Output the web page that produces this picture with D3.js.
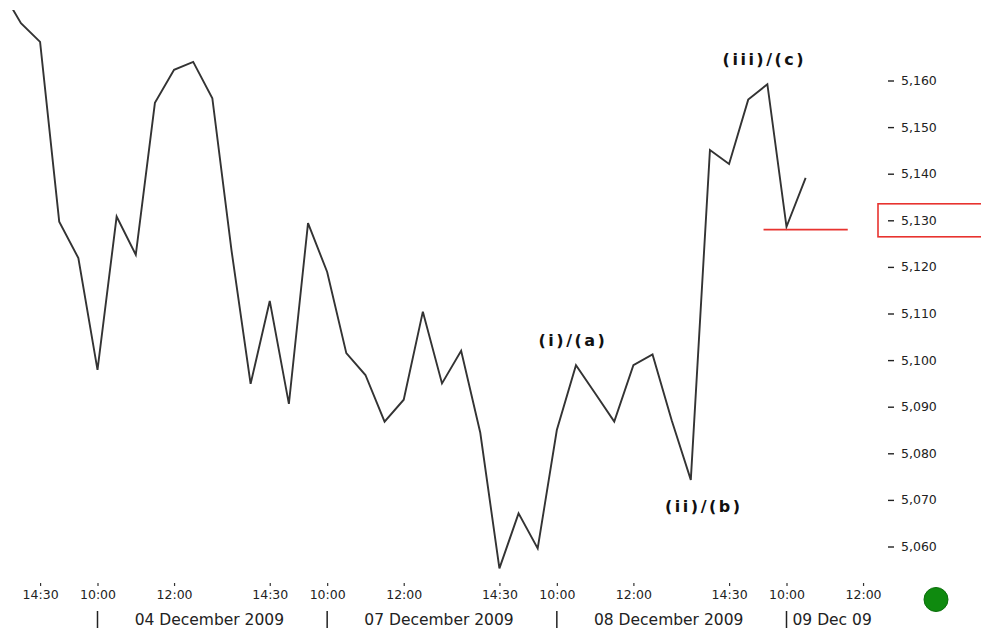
<!DOCTYPE html>
<html>
<head>
<meta charset="utf-8">
<script src="https://cdn.jsdelivr.net/npm/d3@7/dist/d3.min.js"></script>
<style>
  html, body { margin: 0; padding: 0; background: #ffffff; }
  svg { display: block; }
</style>
</head>
<body>
<svg id="chart" width="981" height="633"></svg>
<script>
// ---- data (half-hourly session bars, 10:00-15:30 per trading day) ----
const sessionDays = ["2009-12-03", "2009-12-04", "2009-12-07", "2009-12-08", "2009-12-09"];
const times = [
  "2009-12-03 13:30","2009-12-03 14:00","2009-12-03 14:30","2009-12-03 15:00","2009-12-03 15:30",
  "2009-12-04 10:00","2009-12-04 10:30","2009-12-04 11:00","2009-12-04 11:30","2009-12-04 12:00","2009-12-04 12:30",
  "2009-12-04 13:00","2009-12-04 13:30","2009-12-04 14:00","2009-12-04 14:30","2009-12-04 15:00","2009-12-04 15:30",
  "2009-12-07 10:00","2009-12-07 10:30","2009-12-07 11:00","2009-12-07 11:30","2009-12-07 12:00","2009-12-07 12:30",
  "2009-12-07 13:00","2009-12-07 13:30","2009-12-07 14:00","2009-12-07 14:30","2009-12-07 15:00","2009-12-07 15:30",
  "2009-12-08 10:00","2009-12-08 10:30","2009-12-08 11:00","2009-12-08 11:30","2009-12-08 12:00","2009-12-08 12:30",
  "2009-12-08 13:00","2009-12-08 13:30","2009-12-08 14:00","2009-12-08 14:30","2009-12-08 15:00","2009-12-08 15:30",
  "2009-12-09 10:00","2009-12-09 10:30"
];
const prices = [
  5179.3, 5172.3, 5168.3, 5129.7, 5121.9,
  5097.9, 5130.8, 5122.6, 5155.2, 5162.3, 5164.0,
  5156.2, 5123.6, 5094.9, 5112.7, 5090.6, 5129.4,
  5118.9, 5101.5, 5096.8, 5086.8, 5091.5, 5110.4,
  5095.0, 5102.0, 5084.4, 5055.3, 5067.1, 5059.6,
  5085.0, 5098.9, 5092.9, 5086.8, 5098.9, 5101.2,
  5087.1, 5074.3, 5145.1, 5142.1, 5155.9, 5159.2,
  5128.6, 5139.1
];
const yTicks = [5060, 5070, 5080, 5090, 5100, 5110, 5120, 5130, 5140, 5150, 5160];
const xTickTimes = [
  "2009-12-03 14:30","2009-12-04 10:00","2009-12-04 12:00","2009-12-04 14:30",
  "2009-12-07 10:00","2009-12-07 12:00","2009-12-07 14:30",
  "2009-12-08 10:00","2009-12-08 12:00","2009-12-08 14:30",
  "2009-12-09 10:00","2009-12-09 12:00"
];
const dayLabels = [
  { from: "2009-12-04 10:00", to: "2009-12-07 10:00", text: "04 December 2009" },
  { from: "2009-12-07 10:00", to: "2009-12-08 10:00", text: "07 December 2009" },
  { from: "2009-12-08 10:00", to: "2009-12-09 10:00", text: "08 December 2009" },
  { from: "2009-12-09 10:00", to: null, text: "09 Dec 09" }
];
const separators = ["2009-12-04 10:00", "2009-12-07 10:00", "2009-12-08 10:00", "2009-12-09 10:00"];
const waveLabels = [
  { at: "2009-12-08 10:30", text: "(i)/(a)", above: true, dx: -4 },
  { at: "2009-12-08 13:30", text: "(ii)/(b)", above: false, dx: 12 },
  { at: "2009-12-08 15:30", text: "(iii)/(c)", above: true, dx: -4 }
];
const supportLevel = 5128;
const supportFrom = "2009-12-08 15:24";
const supportTo = "2009-12-09 11:36";
const highlightTick = 5130;

// ---- helpers ----
function slotIndex(t) {
  const [d, hm] = t.split(" ");
  const [h, m] = hm.split(":").map(Number);
  const day = sessionDays.indexOf(d);
  return (day - 1) * 12 + ((h - 10) * 60 + m) / 30;
}

const svg = d3.select("#chart");
const x = d3.scaleLinear().domain([0, 36]).range([97.5, 786.5]);
const y = d3.scaleLinear().domain([5060, 5160]).range([546.5, 80.5]);

const data = times.map((t, i) => ({ i: slotIndex(t), v: prices[i] }));

// clip region for the plot
svg.append("defs").append("clipPath").attr("id", "plotclip")
  .append("rect").attr("x", 0).attr("y", 10).attr("width", 870).attr("height", 570);

// price line
svg.append("path")
  .datum(data)
  .attr("clip-path", "url(#plotclip)")
  .attr("fill", "none")
  .attr("stroke", "#333")
  .attr("stroke-width", 1.9)
  .attr("stroke-linejoin", "miter")
  .attr("d", d3.line().x(d => x(d.i)).y(d => y(d.v)));

// support line (red)
svg.append("line")
  .attr("x1", x(slotIndex(supportFrom))).attr("x2", x(slotIndex(supportTo)))
  .attr("y1", y(supportLevel)).attr("y2", y(supportLevel))
  .attr("stroke", "#e8332f").attr("stroke-width", 1.6);

// wave labels
waveLabels.forEach(w => {
  const d = data.find(p => p.i === slotIndex(w.at));
  svg.append("text")
    .attr("x", x(d.i) + w.dx + 1)
    .attr("y", w.above ? y(d.v) - 19 : y(d.v) + 32)
    .attr("text-anchor", "middle")
    .attr("font-family", "DejaVu Sans, Verdana, sans-serif")
    .attr("font-weight", "bold")
    .attr("font-size", 16)
    .attr("letter-spacing", 2.5)
    .attr("fill", "#111")
    .text(w.text);
});

// right axis
const yAxis = d3.axisRight(y).tickValues(yTicks).tickSize(6).tickPadding(7)
  .tickFormat(d3.format(","));
const gy = svg.append("g").attr("transform", "translate(888,0)").call(yAxis);
gy.select(".domain").remove();
gy.selectAll(".tick line").attr("stroke", "#222").attr("stroke-width", 1.4);
gy.selectAll(".tick text")
  .attr("font-family", "DejaVu Sans, Tahoma, sans-serif")
  .attr("font-size", 12.5)
  .attr("fill", "#222");

// highlight box around the 5,130 tick
svg.append("rect")
  .attr("x", 878).attr("y", y(highlightTick) - 16.5)
  .attr("width", 110).attr("height", 33)
  .attr("fill", "none").attr("stroke", "#e8332f").attr("stroke-width", 1.6);

// bottom time axis
const xAxis = d3.axisBottom(x)
  .tickValues(xTickTimes.map(slotIndex))
  .tickSize(3).tickPadding(4)
  .tickFormat((d, i) => xTickTimes[i].split(" ")[1]);
const gx = svg.append("g").attr("transform", "translate(0,583)").call(xAxis);
gx.select(".domain").remove();
gx.selectAll(".tick line").attr("stroke", "#333").attr("stroke-width", 1.2);
gx.selectAll(".tick text")
  .attr("font-family", "DejaVu Sans, Tahoma, sans-serif")
  .attr("font-size", 12.5)
  .attr("fill", "#222");

// day separators
svg.selectAll("line.sep").data(separators).enter().append("line")
  .attr("class", "sep")
  .attr("x1", d => x(slotIndex(d))).attr("x2", d => x(slotIndex(d)))
  .attr("y1", 611).attr("y2", 628)
  .attr("stroke", "#222").attr("stroke-width", 1.5);

// day labels
dayLabels.forEach(dl => {
  const a = x(slotIndex(dl.from));
  const t = svg.append("text")
    .attr("y", 625)
    .attr("font-family", "DejaVu Sans, Tahoma, sans-serif")
    .attr("font-size", 15.5)
    .attr("fill", "#222")
    .text(dl.text);
  if (dl.to) {
    t.attr("x", (a + x(slotIndex(dl.to))) / 2 - 3).attr("text-anchor", "middle");
  } else {
    t.attr("x", a + 6).attr("text-anchor", "start");
  }
});

// status dot
svg.append("circle")
  .attr("cx", 936).attr("cy", 599.5).attr("r", 12)
  .attr("fill", "#0f8a0f").attr("stroke", "#0b6e0b").attr("stroke-width", 1);
</script>
</body>
</html>
